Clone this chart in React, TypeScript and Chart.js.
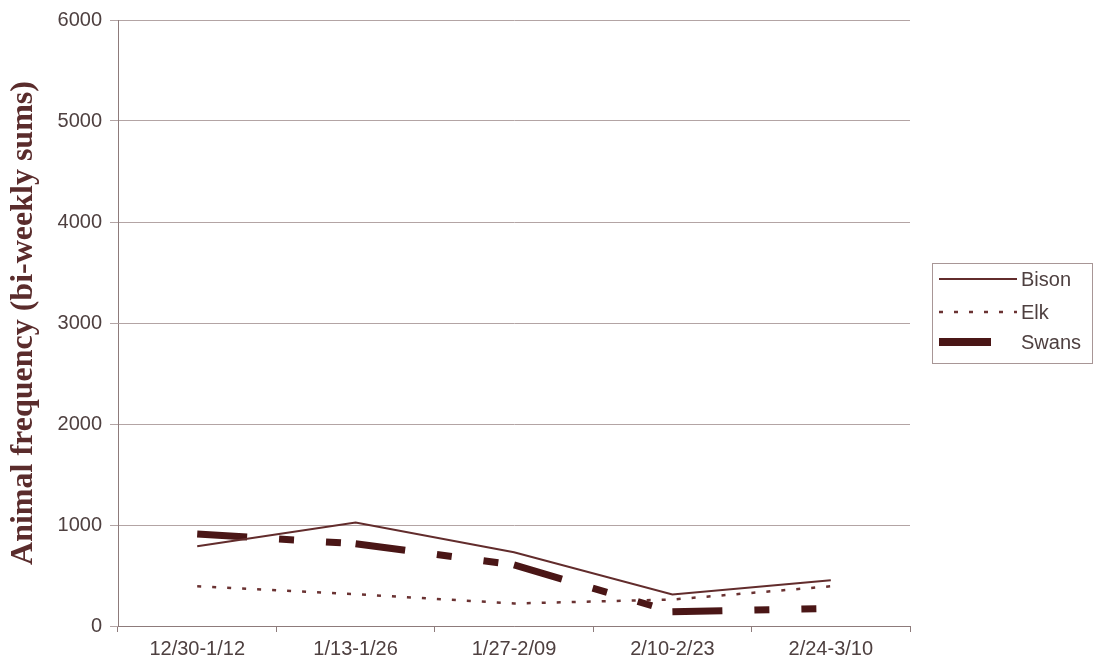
import React, { useEffect, useRef } from "react";
import { Chart, registerables } from "chart.js";

Chart.register(...registerables);

// Bi-weekly periods on the x axis
const periods = ["12/30-1/12", "1/13-1/26", "1/27-2/09", "2/10-2/23", "2/24-3/10"];

// Bi-weekly sums per species
const bison = [790, 1025, 730, 312, 452];
const elk = [393, 315, 223, 262, 393];
const swans = [910, 815, 605, 141, 174];

const yTicks = [0, 1000, 2000, 3000, 4000, 5000, 6000];

const BISON_COLOR = "#622c2c";
const ELK_COLOR = "#6a3232";
const SWANS_COLOR = "#4a1616";
const TEXT_COLOR = "#4e4040";
const GRID_COLOR = "#b3a4a4";
const AXIS_COLOR = "#8d7b7b";
const SANS = "Arial, 'Liberation Sans', sans-serif";

const SWANS_DASH = [50, 32, 15, 32, 15, 60];
const ELK_DASH = [4, 11];

// Boxed legend on the right, with one sample line per series
const boxLegend = {
  id: "boxLegend",
  afterDraw(chart: Chart) {
    const ctx = chart.ctx;
    const x0 = 932;
    const y0 = 263;
    const w = 160;
    const h = 100;
    ctx.save();
    ctx.strokeStyle = "#a89696";
    ctx.lineWidth = 1;
    ctx.strokeRect(x0 + 0.5, y0 + 0.5, w, h);

    const items = [
      { label: "Bison", color: BISON_COLOR, width: 2, dash: [] as number[], x2: 1017, y: 279 },
      { label: "Elk", color: ELK_COLOR, width: 2.5, dash: ELK_DASH, x2: 1017, y: 312 },
      { label: "Swans", color: SWANS_COLOR, width: 8, dash: [] as number[], x2: 991, y: 342 },
    ];
    ctx.font = `20px ${SANS}`;
    ctx.textBaseline = "middle";
    ctx.textAlign = "left";
    for (const it of items) {
      ctx.beginPath();
      ctx.setLineDash(it.dash);
      ctx.lineCap = "butt";
      ctx.strokeStyle = it.color;
      ctx.lineWidth = it.width;
      ctx.moveTo(939, it.y);
      ctx.lineTo(it.x2, it.y);
      ctx.stroke();
      ctx.setLineDash([]);
      ctx.fillStyle = TEXT_COLOR;
      ctx.fillText(it.label, 1021, it.y + 1);
    }
    ctx.restore();
  },
};

export default function App() {
  const canvasRef = useRef<HTMLCanvasElement | null>(null);

  useEffect(() => {
    const canvas = canvasRef.current;
    if (!canvas) return;
    const chart = new Chart(canvas, {
      type: "line",
      data: {
        labels: periods,
        datasets: [
          {
            label: "Bison",
            data: bison,
            borderColor: BISON_COLOR,
            borderWidth: 2,
            pointRadius: 0,
            tension: 0,
          },
          {
            label: "Elk",
            data: elk,
            borderColor: ELK_COLOR,
            borderWidth: 2.5,
            borderDash: ELK_DASH,
            pointRadius: 0,
            tension: 0,
          },
          {
            label: "Swans",
            data: swans,
            borderColor: SWANS_COLOR,
            borderWidth: 7,
            borderDash: SWANS_DASH,
            borderCapStyle: "butt",
            pointRadius: 0,
            tension: 0,
            // restart the dash pattern on every segment
            segment: {
              borderDashOffset: (c: any) => (c.p0DataIndex % 2 ? 0.001 : 0),
            },
          },
        ],
      },
      options: {
        animation: false,
        responsive: false,
        devicePixelRatio: 1,
        layout: { padding: { left: 0, right: 184, top: 20, bottom: 0 } },
        plugins: {
          legend: { display: false },
          tooltip: { enabled: false },
        },
        scales: {
          x: {
            offset: true,
            grid: {
              offset: true,
              drawOnChartArea: false,
              drawTicks: true,
              tickLength: 6,
              color: AXIS_COLOR,
            },
            border: { color: AXIS_COLOR },
            ticks: {
              color: TEXT_COLOR,
              padding: 5,
              maxRotation: 0,
              font: { family: SANS, size: 20 },
            },
            afterFit: (s: any) => {
              s.height = 42;
            },
          },
          y: {
            min: 0,
            max: 6000,
            afterBuildTicks: (s: any) => {
              s.ticks = yTicks.map((v) => ({ value: v }));
            },
            grid: {
              color: GRID_COLOR,
              drawTicks: true,
              tickLength: 8,
            },
            border: { color: AXIS_COLOR },
            ticks: {
              color: TEXT_COLOR,
              padding: 8,
              font: { family: SANS, size: 20 },
              callback: (v: any) => String(v),
            },
            title: {
              display: true,
              text: "Animal frequency (bi-weekly sums)",
              color: "#5a2c2c",
              padding: { top: 5, bottom: 0 },
              font: { family: "'Liberation Serif', 'Times New Roman', serif", size: 32, weight: "bold" },
            },
            afterFit: (s: any) => {
              s.width = 118;
            },
          },
        },
      },
      plugins: [boxLegend],
    });
    return () => chart.destroy();
  }, []);

  return (
    <div style={{ position: "absolute", left: 0, top: 0, width: 1094, height: 668, background: "#fff" }}>
      <canvas ref={canvasRef} width={1094} height={668} style={{ display: "block" }} />
    </div>
  );
}
